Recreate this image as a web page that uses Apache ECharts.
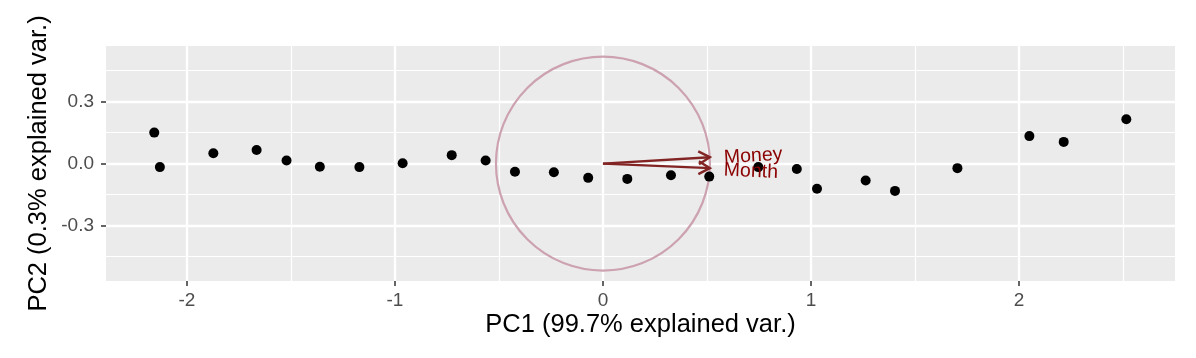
<!DOCTYPE html>
<html>
<head>
<meta charset="utf-8">
<script src="https://cdn.jsdelivr.net/npm/echarts@6/dist/echarts.min.js"></script>
<style>
html,body{margin:0;padding:0;background:#ffffff;}
#chart{width:1196px;height:358px;}
</style>
</head>
<body>
<div id="chart"></div>
<script>
// PCA scores (PC1, PC2)
const pc1 = [-2.157, -2.130, -1.873, -1.665, -1.521, -1.361, -1.171, -0.963, -0.727, -0.564,
             -0.423, -0.236, -0.071, 0.117, 0.327, 0.511, 0.747, 0.932,
             1.029, 1.263, 1.404, 1.704, 2.050, 2.215, 2.516];
const pc2 = [0.150, -0.017, 0.050, 0.066, 0.015, -0.015, -0.017, 0.002, 0.041, 0.015,
             -0.039, -0.042, -0.069, -0.074, -0.056, -0.063, -0.017, -0.026,
             -0.122, -0.082, -0.132, -0.022, 0.133, 0.105, 0.215];
// variable loadings (arrows)
const varNames = ['Money', 'Month'];
const loadX = [0.514, 0.514];
const loadY = [0.031, -0.022];
// correlation circle radius
const circleRadius = [0.516];
// axes
const xTicks = [-2, -1, 0, 1, 2];
const xMinor = [-1.5, -0.5, 0.5, 1.5, 2.5];
const yTicks = [-0.3, 0, 0.3];
const yMinor = [-0.45, -0.15, 0.15, 0.45];
const xTitle = 'PC1 (99.7% explained var.)';
const yTitle = 'PC2 (0.3% explained var.)';

const FONT = "'Liberation Sans', Arial, Helvetica, sans-serif";
const arrowColor = '#832424';
const labelColor = '#8B0000';

const chart = echarts.init(document.getElementById('chart'), null, {renderer: 'canvas'});

const gridLines = [];
xMinor.forEach(v => gridLines.push({xAxis: v, lineStyle: {width: 1.2}}));
yMinor.forEach(v => gridLines.push({yAxis: v, lineStyle: {width: 1.2}}));
xTicks.forEach(v => gridLines.push({xAxis: v, lineStyle: {width: 2.3}}));
yTicks.forEach(v => gridLines.push({yAxis: v, lineStyle: {width: 2.3}}));

const points = pc1.map((x, i) => [x, pc2[i]]);
const loadings = loadX.map((x, i) => [x, loadY[i], varNames[i]]);

chart.setOption({
  animation: false,
  backgroundColor: '#ffffff',
  grid: {
    left: 106, right: 21, top: 46, bottom: 77,
    show: true, backgroundColor: '#EBEBEB', borderWidth: 0
  },
  xAxis: {
    type: 'value',
    min: -2.389, max: 2.750,
    name: xTitle,
    nameLocation: 'middle',
    nameGap: 31,
    nameMoveOverlap: false,
    nameTextStyle: {fontFamily: FONT, fontSize: 25.5, color: '#000000'},
    axisLine: {show: false, onZero: false},
    splitLine: {show: false},
    axisTick: {show: true, customValues: xTicks, length: 5, lineStyle: {color: '#333333', width: 1.5}},
    axisLabel: {customValues: xTicks, margin: 10, fontFamily: FONT, fontSize: 19, color: '#4D4D4D',
                formatter: v => String(v)}
  },
  yAxis: {
    type: 'value',
    min: -0.568, max: 0.569,
    name: yTitle,
    nameLocation: 'middle',
    nameGap: 54,
    nameMoveOverlap: false,
    nameTextStyle: {fontFamily: FONT, fontSize: 25.5, color: '#000000'},
    axisLine: {show: false, onZero: false},
    splitLine: {show: false},
    axisTick: {show: true, customValues: yTicks, length: 5, lineStyle: {color: '#333333', width: 1.5}},
    axisLabel: {customValues: yTicks, margin: 12, fontFamily: FONT, fontSize: 19, color: '#4D4D4D',
                formatter: v => v.toFixed(1)}
  },
  series: [
    {
      type: 'scatter',
      data: [],
      silent: true,
      z: 0,
      markLine: {
        z: 0,
        silent: true,
        symbol: ['none', 'none'],
        label: {show: false},
        animation: false,
        lineStyle: {color: '#ffffff', type: 'solid', opacity: 1},
        emphasis: {disabled: true},
        data: gridLines
      }
    },
    {
      type: 'custom',
      z: 6,
      silent: true,
      data: circleRadius.map(r => [0, 0, r]),
      renderItem: function (params, api) {
        const c = api.coord([api.value(0), api.value(1)]);
        const s = api.size([api.value(2), api.value(2)]);
        return {
          type: 'circle',
          shape: {cx: c[0], cy: c[1], r: (s[0] + s[1]) / 2},
          style: {fill: 'none', stroke: '#CDA2B0', lineWidth: 2.2}
        };
      }
    },
    {
      type: 'scatter',
      z: 8,
      silent: true,
      symbol: 'circle',
      symbolSize: 10,
      itemStyle: {color: '#000000', opacity: 1},
      data: points
    },
    {
      type: 'custom',
      z: 10,
      silent: true,
      data: loadings,
      renderItem: function (params, api) {
        const o = api.coord([0, 0]);
        const e = api.coord([api.value(0), api.value(1)]);
        const name = varNames[params.dataIndex];
        const ang = Math.atan2(e[1] - o[1], e[0] - o[0]);
        const L = 13, h = Math.PI / 6;
        const p1 = [e[0] - L * Math.cos(ang - h), e[1] - L * Math.sin(ang - h)];
        const p2 = [e[0] - L * Math.cos(ang + h), e[1] - L * Math.sin(ang + h)];
        return {
          type: 'group',
          children: [
            {type: 'line', shape: {x1: o[0], y1: o[1], x2: e[0], y2: e[1]},
             style: {stroke: arrowColor, lineWidth: 2.4}},
            {type: 'polyline', shape: {points: [p1, e, p2]},
             style: {stroke: arrowColor, lineWidth: 2.4, fill: 'none'}},
            {type: 'text', x: e[0], y: e[1], rotation: -ang,
             style: {text: name, x: 14, y: 1.5, fill: labelColor, fontSize: 19.5, fontFamily: FONT,
                     textAlign: 'left', textVerticalAlign: 'middle'}}
          ]
        };
      }
    }
  ]
});
</script>
</body>
</html>
